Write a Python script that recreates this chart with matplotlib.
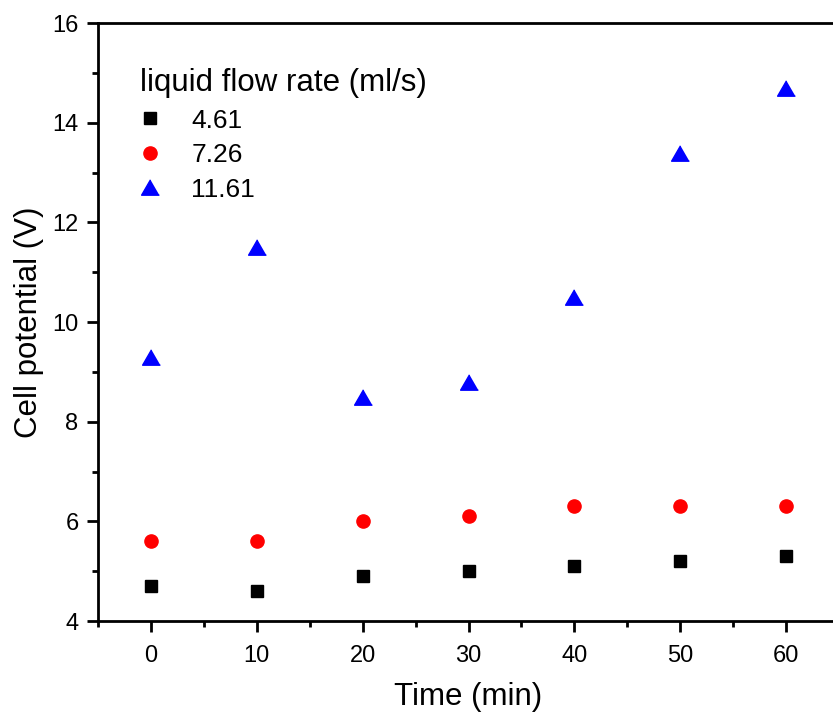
import matplotlib
matplotlib.use('Agg')
import matplotlib.pyplot as plt
from matplotlib.ticker import MultipleLocator

# data
time_min = [0, 10, 20, 30, 40, 50, 60]
v_461 = [4.7, 4.6, 4.9, 5.0, 5.1, 5.2, 5.3]
v_726 = [5.6, 5.6, 6.0, 6.1, 6.3, 6.3, 6.3]
v_1161 = [9.3, 11.5, 8.5, 8.8, 10.5, 13.4, 14.7]
flow_labels = ['4.61', '7.26', '11.61']

plt.rcParams['font.family'] = ['Liberation Sans', 'DejaVu Sans']

fig = plt.figure(figsize=(8.33, 7.15), dpi=100)
ax = fig.add_axes([98 / 833, 94 / 715, 741 / 833, 598 / 715])

tri = [(0, 0.866), (-1, -0.866), (1, -0.866)]
ax.plot(time_min, v_461, ls='none', marker='s', ms=8.8, color='black', label=flow_labels[0])
ax.plot(time_min, v_726, ls='none', marker='o', ms=9.5, color='red', label=flow_labels[1])
ax.plot(time_min, v_1161, ls='none', marker=tri, ms=12.8, color='blue', label=flow_labels[2])

ax.set_xlim(-5, 65)
ax.set_ylim(4, 16)
ax.xaxis.set_major_locator(MultipleLocator(10))
ax.xaxis.set_minor_locator(MultipleLocator(5))
ax.yaxis.set_major_locator(MultipleLocator(2))
ax.yaxis.set_minor_locator(MultipleLocator(1))
ax.tick_params(which='major', direction='out', length=8, width=2, labelsize=17)
ax.tick_params(axis='x', which='major', pad=9)
ax.tick_params(axis='y', which='major', pad=6)
ax.tick_params(which='minor', direction='out', length=4.5, width=2)
for s in ax.spines.values():
    s.set_linewidth(2)

ax.set_xlabel('Time (min)', fontsize=22.5, labelpad=11)
ax.set_ylabel('Cell potential (V)', fontsize=22.5, labelpad=6)

leg = ax.legend(title='liquid flow rate (ml/s)', loc='upper left', frameon=False,
                fontsize=19, title_fontsize=22.5, alignment='left',
                handlelength=0.8, handletextpad=1.15, labelspacing=0.4,
                borderaxespad=0.4, bbox_to_anchor=(0.028, 0.96))

fig.savefig('out.png', dpi=100)
